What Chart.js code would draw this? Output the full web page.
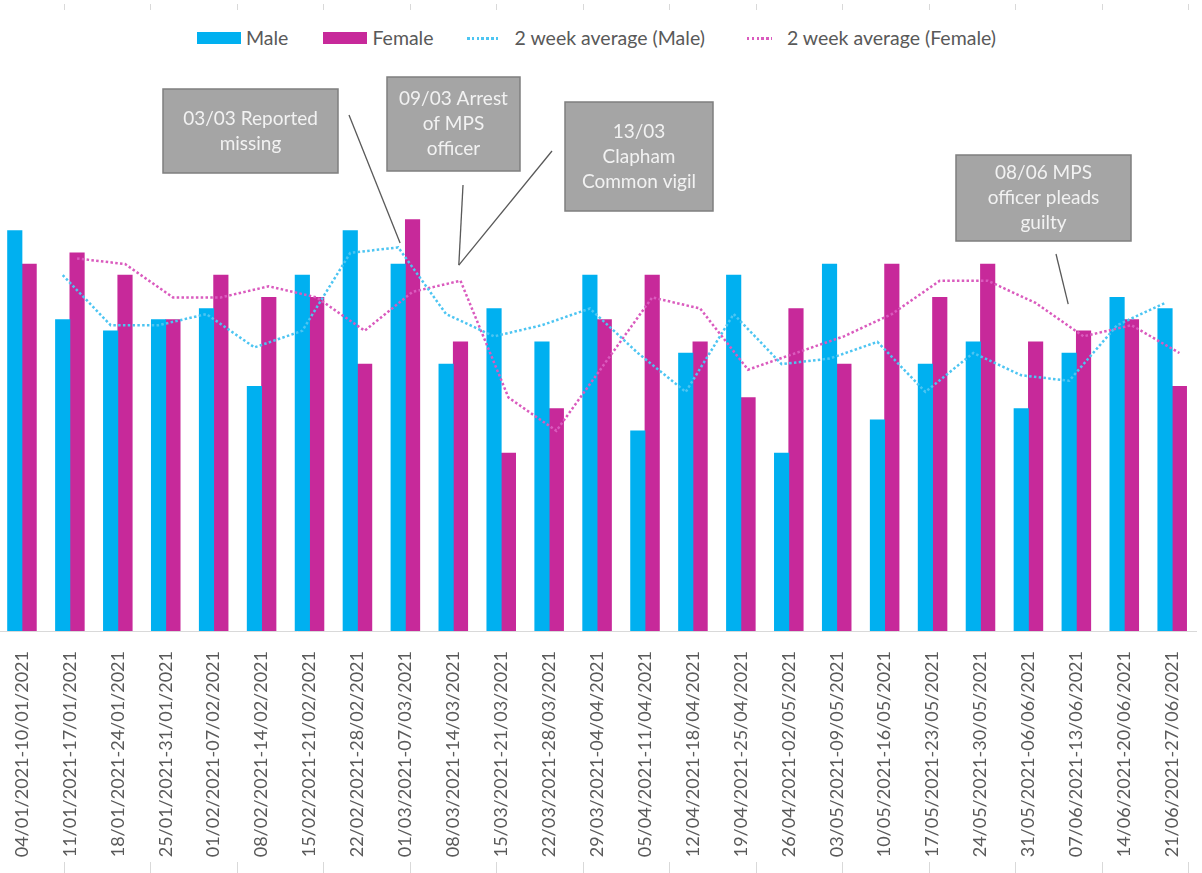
<!DOCTYPE html>
<html>
<head>
<meta charset="utf-8">
<title>Weekly counts by sex, January to June 2021</title>
<script src="https://cdn.jsdelivr.net/npm/chart.js@4/dist/chart.umd.min.js"></script>
<style>
  html, body { margin: 0; padding: 0; background: #fff; overflow: hidden; }
  body { width: 1202px; height: 873px; position: relative; font-family: Lato, "Open Sans", sans-serif; }
  #chart { position: absolute; left: -2px; top: 0; }
  #legend { position: absolute; left: 197px; top: 27px; display: flex; align-items: center; color: #595959; font-size: 19.5px; line-height: 22px; white-space: nowrap; }
  #legend .item { display: flex; align-items: center; }
  #legend .swatch { width: 44px; height: 12px; margin-right: 5px; }
  #legend .dots { height: 3px; margin-right: 15px; }
</style>
</head>
<body>
<div id="legend"></div>
<canvas id="chart" width="1208" height="873"></canvas>
<script>
// week ranges on the x axis
const weeks = [
  '04/01/2021-10/01/2021', '11/01/2021-17/01/2021', '18/01/2021-24/01/2021', '25/01/2021-31/01/2021',
  '01/02/2021-07/02/2021', '08/02/2021-14/02/2021', '15/02/2021-21/02/2021', '22/02/2021-28/02/2021',
  '01/03/2021-07/03/2021', '08/03/2021-14/03/2021', '15/03/2021-21/03/2021', '22/03/2021-28/03/2021',
  '29/03/2021-04/04/2021', '05/04/2021-11/04/2021', '12/04/2021-18/04/2021', '19/04/2021-25/04/2021',
  '26/04/2021-02/05/2021', '03/05/2021-09/05/2021', '10/05/2021-16/05/2021', '17/05/2021-23/05/2021',
  '24/05/2021-30/05/2021', '31/05/2021-06/06/2021', '07/06/2021-13/06/2021', '14/06/2021-20/06/2021',
  '21/06/2021-27/06/2021'
];

const male = [36, 28, 27, 28, 29, 22, 32, 36, 33, 24, 29, 26, 32, 18, 25, 32, 16, 33, 19, 24, 26, 20, 25, 30, 29];
const female = [33, 34, 32, 28, 32, 30, 30, 24, 37, 26, 16, 20, 28, 32, 26, 21, 29, 24, 33, 30, 33, 26, 27, 28, 22];

// two-week rolling averages (no value for the first week)
const maleAvg = [null, 32, 27.5, 27.5, 28.5, 25.5, 27, 34, 34.5, 28.5, 26.5, 27.5, 29, 25, 21.5, 28.5, 24, 24.5, 26, 21.5, 25, 23, 22.5, 27.5, 29.5];
const femaleAvg = [null, 33.5, 33, 30, 30, 31, 30, 27, 30.5, 31.5, 21, 18, 24, 30, 29, 23.5, 25, 26.5, 28.5, 31.5, 31.5, 29.5, 26.5, 27.5, 25];

const seriesNames = ['Male', 'Female', '2 week average (Male)', '2 week average (Female)'];
const colours = ['#00B0F0', '#C7299A', '#4DC5F2', '#DA5BBE'];

// event callouts: box in page pixels, pointer tip in data space
const events = [
  { text: ['03/03 Reported', 'missing'], box: [163, 89, 175, 84], from: [349, 115], tip: [8 - 0.11, 34.9] },
  { text: ['09/03 Arrest', 'of MPS', 'officer'], box: [387, 77, 133, 94], from: [463, 185], tip: [9 + 0.115, 32.9] },
  { text: ['13/03', 'Clapham', 'Common vigil'], box: [565, 102, 148, 109], from: [552, 151], tip: [9 + 0.115, 32.9] },
  { text: ['08/06 MPS', 'officer pleads', 'guilty'], box: [956, 155, 175, 86], from: [1056, 254], tip: [22 - 0.17, 29.4] }
];

// male sits left of the week centre, female right; the average lines follow their bars
const barShift = 0.15;
const toPoints = (vals, shift) => vals.map((v, i) => ({ x: i + shift, y: v }));

const pageX = 2; // canvas is nudged 2px left of the page

const callouts = {
  id: 'callouts',
  afterDraw(chart) {
    const ctx = chart.ctx;
    const xs = chart.scales.x;
    const ys = chart.scales.y;
    ctx.save();

    // small frame ticks top and bottom
    ctx.strokeStyle = '#D9D9D9';
    ctx.lineWidth = 1;
    for (let k = 0; k < 14; k++) {
      const x = Math.round(63.9 + k * 86.5 + pageX) + 0.5;
      ctx.beginPath();
      ctx.moveTo(x, 4); ctx.lineTo(x, 10);
      ctx.moveTo(x, 862); ctx.lineTo(x, 873);
      ctx.stroke();
    }

    events.forEach(ev => {
      const [bx, by, bw, bh] = ev.box;
      ctx.strokeStyle = '#595959';
      ctx.lineWidth = 1.3;
      ctx.beginPath();
      ctx.moveTo(ev.from[0] + pageX, ev.from[1]);
      ctx.lineTo(xs.getPixelForValue(ev.tip[0]), ys.getPixelForValue(ev.tip[1]));
      ctx.stroke();

      ctx.fillStyle = '#A5A5A5';
      ctx.fillRect(bx + pageX, by, bw, bh);
      ctx.strokeStyle = '#7F7F7F';
      ctx.lineWidth = 1.5;
      ctx.strokeRect(bx + pageX, by, bw, bh);

      ctx.fillStyle = '#F2F2F2';
      ctx.font = '19px Lato, "Open Sans", sans-serif';
      ctx.textAlign = 'center';
      ctx.textBaseline = 'middle';
      const lh = 25;
      const top = by + bh / 2 - (ev.text.length - 1) * lh / 2;
      ev.text.forEach((t, i) => ctx.fillText(t, bx + pageX + bw / 2, top + i * lh));
    });
    ctx.restore();
  }
};

const barOpts = { grouped: false, barThickness: 14.5, order: 2 };
const lineOpts = { type: 'line', borderWidth: 2.5, borderDash: [2.5, 2.3], pointRadius: 0, tension: 0, fill: false, order: 1 };

const chart = new Chart(document.getElementById('chart'), {
  type: 'bar',
  data: {
    labels: weeks,
    datasets: [
      { ...barOpts, label: seriesNames[0], data: toPoints(male, -barShift), backgroundColor: colours[0] },
      { ...barOpts, label: seriesNames[1], data: toPoints(female, barShift), backgroundColor: colours[1] },
      { ...lineOpts, label: seriesNames[2], data: toPoints(maleAvg, -barShift), borderColor: colours[2] },
      { ...lineOpts, label: seriesNames[3], data: toPoints(femaleAvg, barShift), borderColor: colours[3] }
    ]
  },
  options: {
    responsive: false,
    animation: false,
    layout: { padding: { top: 75, left: 0, right: 0, bottom: 0 } },
    scales: {
      // numeric week position used by every dataset
      x: { type: 'linear', display: false, offset: false, min: -0.5, max: 24.5 },
      // week labels along the bottom
      weeks: {
        type: 'category',
        position: 'bottom',
        labels: weeks,
        offset: true,
        grid: { display: false },
        border: { display: true, color: '#D9D9D9', width: 1 },
        ticks: {
          autoSkip: false, minRotation: 90, maxRotation: 90, padding: 12,
          color: '#595959', font: { family: 'Lato', size: 18 }
        },
        afterFit(scale) { scale.height = 242; }
      },
      y: { display: false, min: 0, max: 50 }
    },
    plugins: { legend: { display: false }, tooltip: { enabled: false } }
  },
  plugins: [callouts]
});

// legend across the top
const legend = document.getElementById('legend');
const gaps = [35, 33, 42, 0];
const dotWidths = [33, 25];
chart.data.datasets.forEach((ds, i) => {
  const item = document.createElement('div');
  item.className = 'item';
  item.style.marginRight = gaps[i] + 'px';
  const mark = document.createElement('span');
  if (ds.type === 'line') {
    mark.className = 'dots';
    mark.style.width = dotWidths[i - 2] + 'px';
    mark.style.background = 'repeating-linear-gradient(90deg, ' + ds.borderColor + ' 0 2.5px, transparent 2.5px 4.8px)';
  } else {
    mark.className = 'swatch';
    mark.style.background = ds.backgroundColor;
  }
  const label = document.createElement('span');
  label.textContent = ds.label;
  item.appendChild(mark);
  item.appendChild(label);
  legend.appendChild(item);
});
</script>
</body>
</html>
